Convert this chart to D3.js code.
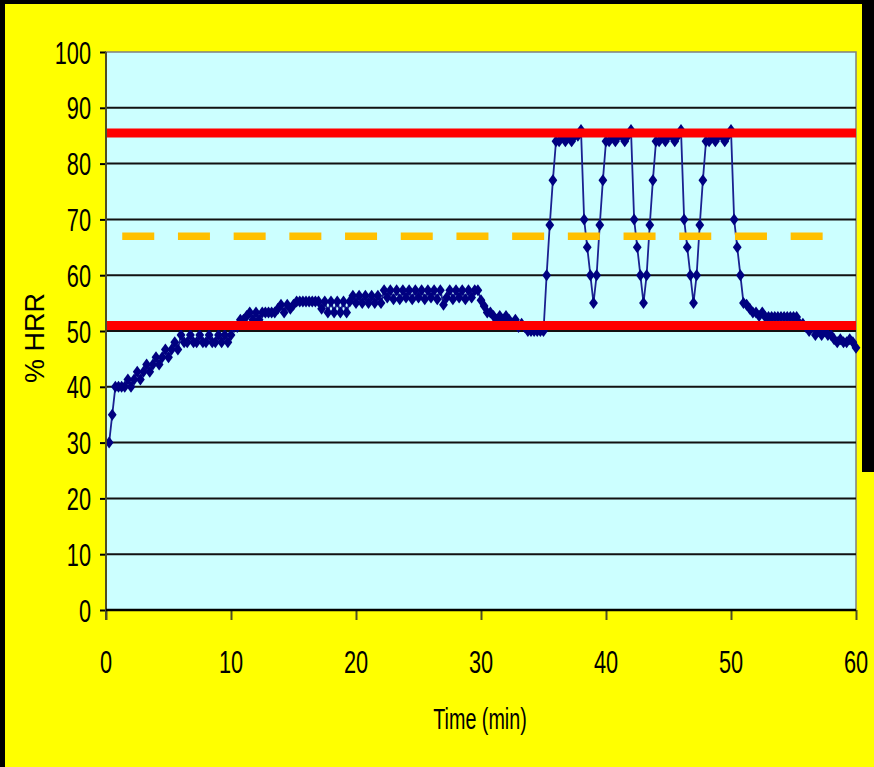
<!DOCTYPE html>
<html>
<head>
<meta charset="utf-8">
<script src="https://cdn.jsdelivr.net/npm/d3@7"></script>
<style>
  html, body { margin: 0; padding: 0; background: #ffff00; }
  svg { display: block; }
  text { font-family: "Liberation Sans", Arial, sans-serif; fill: #000; }
</style>
</head>
<body>
<svg id="chart" width="874" height="767"></svg>
<script>
// ---- data ----
const xTicks = [0, 10, 20, 30, 40, 50, 60];
const yTicks = [0, 10, 20, 30, 40, 50, 60, 70, 80, 90, 100];
const sampleStart = 0.25;   // min, first reading
const sampleStep = 0.25;    // min between readings (15 s)

// %HRR readings, 4 per minute
const hrr = [
  30, 35, 40, 40,
  40, 40, 41.3, 40,
  41.3, 42.7, 41.3, 42.7,
  44, 42.7, 44, 45.3,
  44, 45.3, 46.7, 45.3,
  46.7, 48, 46.7, 49.3,
  48, 48, 49.3, 48,
  48, 49.3, 48, 48,
  49.3, 48, 48, 49.3,
  48, 49.3, 48, 49.3,
  50.7, 50.7, 52, 52,
  52.7, 53.3, 52, 53.3,
  52, 53.3, 53.3, 53.3,
  53.3, 53.3, 54, 54.7,
  53.3, 54.7, 54, 54.7,
  55.3, 55.3, 55.3, 55.3,
  55.3, 55.3, 55.3, 55.3,
  54, 55.3, 53.3, 55.3,
  53.3, 55.3, 53.3, 55.3,
  53.3, 55.3, 56.3, 55,
  56.3, 55, 56.3, 55,
  56.3, 55, 56.3, 55,
  57.3, 56, 57.3, 55.7,
  57.3, 55.7, 57.3, 56,
  57.3, 55.7, 57.3, 56,
  57.3, 55.7, 57.3, 56,
  57.3, 55.7, 57.3, 54.7,
  56, 57.3, 55.7, 57.3,
  56, 57.3, 55.7, 57.3,
  56, 57.3, 57.3, 55.5,
  54.5, 53.3, 53.3, 52.7,
  52, 52.7, 52, 52.7,
  52, 51.3, 52, 50.7,
  51.3, 50.7, 50, 50,
  50, 50, 50, 50,
  60, 69, 77, 84,
  84, 85, 84, 85,
  84, 85, 85, 86,
  70, 65, 60, 55,
  60, 69, 77, 84,
  84, 85, 84, 85,
  85, 84, 85, 86,
  70, 65, 60, 55,
  60, 69, 77, 84,
  84, 85, 84, 85,
  85, 84, 85, 86,
  70, 65, 60, 55,
  60, 69, 77, 84,
  84, 85, 84, 85,
  85, 84, 85, 86,
  70, 65, 60, 55,
  54.7, 54, 53.3, 53.3,
  52.7, 53.3, 52.5, 52.5,
  52.5, 52.5, 52.5, 52.5,
  52.5, 52.5, 52.5, 52.5,
  52.5, 51.3, 51.3, 50.7,
  50, 50.7, 49.3, 50,
  49.3, 50, 49.3, 49.3,
  48.5, 48, 48.5, 48,
  48, 48.5, 48, 47
];

// target zone limits (%HRR)
const zoneLimits = [51, 85.5];
const midTarget = 67;
const midTargetSpan = [1.3, 57.4];   // minutes covered by the dashed line

// ---- layout ----
const W = 874, H = 767;
const plot = { left: 106, right: 856, top: 52, bottom: 610 };
const svg = d3.select('#chart');

// frame (black edges of the slide)
svg.append('rect').attr('x', 0).attr('y', 0).attr('width', W).attr('height', 4).attr('fill', '#000');
svg.append('rect').attr('x', 0).attr('y', 0).attr('width', 5).attr('height', H).attr('fill', '#000');
svg.append('rect').attr('x', 862).attr('y', 0).attr('width', 12).attr('height', 472).attr('fill', '#000');

const x = d3.scaleLinear().domain([0, 60]).range([plot.left, plot.right]);
const y = d3.scaleLinear().domain([0, 100]).range([plot.bottom, plot.top]);

// plot background
svg.append('rect')
  .attr('x', plot.left).attr('y', plot.top)
  .attr('width', plot.right - plot.left).attr('height', plot.bottom - plot.top)
  .attr('fill', '#ccffff')
  .attr('stroke', '#808080').attr('stroke-width', 1.5);

// gridlines
svg.append('g')
  .selectAll('line')
  .data(yTicks.filter(v => v > 0 && v < 100))
  .join('line')
  .attr('x1', plot.left).attr('x2', plot.right)
  .attr('y1', d => y(d)).attr('y2', d => y(d))
  .attr('stroke', '#111').attr('stroke-width', 2);

// series
const pts = hrr.map((v, i) => ({ t: sampleStart + i * sampleStep, v }));

svg.append('path')
  .datum(pts)
  .attr('fill', 'none')
  .attr('stroke', '#1a2090')
  .attr('stroke-width', 1.8)
  .attr('d', d3.line().x(d => x(d.t)).y(d => y(d.v)));

svg.append('g')
  .selectAll('path')
  .data(pts)
  .join('path')
  .attr('transform', d => `translate(${x(d.t)},${y(d.v)})`)
  .attr('d', 'M0,-6L4.4,0L0,6L-4.4,0Z')
  .attr('fill', '#000080');

// target zone lines
svg.append('g')
  .selectAll('line')
  .data(zoneLimits)
  .join('line')
  .attr('x1', plot.left).attr('x2', plot.right)
  .attr('y1', d => y(d)).attr('y2', d => y(d))
  .attr('stroke', '#ff0000').attr('stroke-width', 9);

svg.append('line')
  .attr('x1', x(midTargetSpan[0])).attr('x2', x(midTargetSpan[1]))
  .attr('y1', y(midTarget)).attr('y2', y(midTarget))
  .attr('stroke', '#ffc000').attr('stroke-width', 7.5)
  .attr('stroke-dasharray', '32,23.7');

// axes
const yAxis = svg.append('g').attr('transform', `translate(${plot.left},0)`)
  .call(d3.axisLeft(y).tickValues(yTicks).tickSize(6).tickFormat(''));
yAxis.select('.domain').remove();
yAxis.selectAll('.tick line').attr('stroke', '#000').attr('stroke-width', 2);

const xAxis = svg.append('g').attr('transform', `translate(0,${plot.bottom})`)
  .call(d3.axisBottom(x).tickValues(xTicks).tickSize(10).tickFormat(''));
xAxis.select('.domain').remove();
xAxis.selectAll('.tick line').attr('stroke', '#4d4d26').attr('stroke-width', 2);

// axis lines
svg.append('line')
  .attr('x1', plot.left).attr('x2', plot.left)
  .attr('y1', plot.top).attr('y2', plot.bottom + 10)
  .attr('stroke', '#4d4d26').attr('stroke-width', 2);
svg.append('line')
  .attr('x1', plot.left).attr('x2', plot.right)
  .attr('y1', plot.bottom).attr('y2', plot.bottom)
  .attr('stroke', '#000').attr('stroke-width', 2.5);

// tick labels (narrow, like the squeezed slide font)
const sx = 0.68;
svg.append('g')
  .selectAll('text')
  .data(yTicks)
  .join('text')
  .attr('transform', d => `translate(91,${y(d) + 11.5}) scale(${sx},1)`)
  .attr('text-anchor', 'end')
  .attr('font-size', 32)
  .text(d => d);

svg.append('g')
  .selectAll('text')
  .data(xTicks)
  .join('text')
  .attr('transform', d => `translate(${x(d)},673) scale(${sx},1)`)
  .attr('text-anchor', 'middle')
  .attr('font-size', 32)
  .text(d => d);

// axis titles
svg.append('text')
  .attr('transform', `translate(480,729) scale(${sx},1)`)
  .attr('text-anchor', 'middle')
  .attr('font-size', 29)
  .text('Time (min)');

svg.append('text')
  .attr('transform', 'translate(44,338) rotate(-90)')
  .attr('text-anchor', 'middle')
  .attr('font-size', 27)
  .text('% HRR');
</script>
</body>
</html>
